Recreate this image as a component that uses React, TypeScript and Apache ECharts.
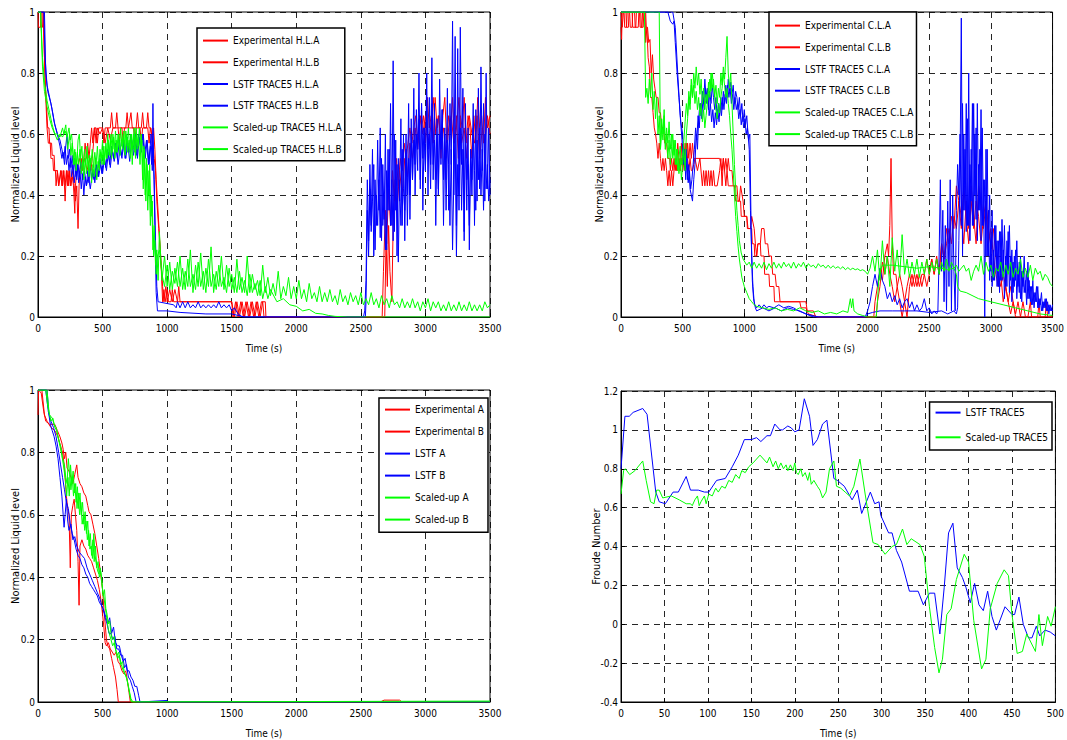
import React, { useEffect, useRef } from "react";
import * as echarts from "echarts";

type P = [number, number][];
// uniform sampling grid (time) with hand-read values
const seg = (t0: number, dt: number, vals: number[]): P => vals.map((v, i) => [t0 + i * dt, v] as [number, number]);

const FONT = "'DejaVu Sans Condensed', 'Liberation Sans', sans-serif";
const RED = "#ff0000";
const BLUE = "#0000ff";
const GREEN = "#00ff00";

// ---------------- Plot 1 : Hot leg ----------------
const expHLA: P = [
  [0, 1], [3, 0.95], [20, 0.95], [25, 1], [40, 1], [55, 0.78], [65, 0.7], [75, 0.62], [85, 0.62], [90, 0.57], [105, 0.57], [110, 0.53], [125, 0.53], [130, 0.48], [150, 0.48], [160, 0.43], [175, 0.48], [185, 0.43], [195, 0.48], [205, 0.43], [210, 0.38], [215, 0.43], [225, 0.48], [235, 0.43], [245, 0.48], [255, 0.43], [265, 0.46], [275, 0.43], [285, 0.34], [290, 0.43], [300, 0.48], [320, 0.52], [340, 0.48], [360, 0.52], [380, 0.48], [400, 0.52], [410, 0.48], [420, 0.52], [430, 0.57], [440, 0.62], [450, 0.57], [460, 0.62], [480, 0.6], [500, 0.62], [520, 0.57], [540, 0.62], [560, 0.58], [580, 0.62], [600, 0.62], [610, 0.67], [620, 0.62], [650, 0.62], [660, 0.57], [670, 0.62], [700, 0.62], [720, 0.67], [730, 0.62], [760, 0.62], [770, 0.67], [780, 0.62], [800, 0.62], [810, 0.67], [820, 0.62], [850, 0.62], [860, 0.57], [870, 0.62], [880, 0.6], [900, 0.52], [910, 0.48], [920, 0.38], [935, 0.29], [950, 0.2], [965, 0.1], [975, 0.05], [990, 0.1], [1000, 0.05], [1020, 0.09], [1040, 0.05], [1060, 0.09], [1080, 0.05], [1150, 0.05], [1300, 0.05], [1500, 0.05], [1520, 0.0], [1540, 0.05], [1560, 0.0], [1580, 0.05], [1600, 0.0], [1620, 0.05], [1640, 0.0], [1660, 0.05], [1680, 0.0], [1700, 0.05], [1720, 0.0], [1740, 0.05], [1750, 0.0], [2650, 0.0], [2665, 0.0], [2675, 0.15], [2690, 0.35], [2700, 0.24], [2715, 0.42], [2730, 0.3], [2745, 0.48], [2760, 0.38], [2775, 0.52], [2790, 0.43], [2805, 0.52], [2820, 0.48], [2835, 0.57], [2850, 0.52], [2865, 0.57], [2880, 0.62], [2895, 0.57], [2910, 0.62], [2925, 0.66], [2940, 0.57], [2955, 0.66], [2970, 0.62], [2985, 0.66], [3000, 0.57], [3015, 0.72], [3030, 0.62], [3045, 0.66], [3060, 0.57], [3075, 0.72], [3090, 0.62], [3105, 0.66], [3120, 0.52], [3135, 0.66], [3150, 0.72], [3165, 0.57], [3180, 0.66], [3195, 0.62], [3210, 0.72], [3225, 0.57], [3240, 0.66], [3255, 0.52], [3270, 0.66], [3285, 0.62], [3300, 0.72], [3315, 0.57], [3330, 0.66], [3345, 0.62], [3360, 0.52], [3375, 0.66], [3390, 0.57], [3405, 0.72], [3420, 0.62], [3435, 0.66], [3450, 0.57], [3465, 0.72], [3480, 0.62], [3500, 0.66],
];

const expHLB: P = [
  [0, 1], [20, 1], [25, 0.95], [35, 0.95], [40, 1], [50, 0.85], [60, 0.72], [70, 0.62], [80, 0.57], [95, 0.57], [100, 0.52], [115, 0.52], [120, 0.48], [135, 0.48], [140, 0.43], [150, 0.48], [160, 0.43], [180, 0.48], [190, 0.43], [200, 0.48], [210, 0.43], [220, 0.48], [230, 0.43], [240, 0.48], [250, 0.43], [270, 0.48], [280, 0.43], [290, 0.38], [300, 0.43], [310, 0.29], [318, 0.43], [325, 0.48], [335, 0.52], [345, 0.48], [355, 0.52], [365, 0.57], [375, 0.52], [385, 0.57], [395, 0.52], [405, 0.57], [415, 0.62], [425, 0.57], [435, 0.62], [450, 0.62], [460, 0.57], [470, 0.62], [500, 0.62], [510, 0.57], [520, 0.62], [560, 0.62], [570, 0.67], [580, 0.62], [620, 0.62], [630, 0.57], [640, 0.62], [680, 0.62], [690, 0.67], [700, 0.62], [740, 0.62], [750, 0.57], [760, 0.62], [790, 0.62], [800, 0.57], [810, 0.62], [840, 0.62], [850, 0.67], [860, 0.62], [875, 0.62], [885, 0.57], [895, 0.62], [905, 0.55], [915, 0.45], [925, 0.38], [940, 0.27], [955, 0.15], [965, 0.05], [975, 0.09], [985, 0.05], [1000, 0.09], [1010, 0.05], [1030, 0.05], [1040, 0.09], [1050, 0.05], [1080, 0.05], [1090, 0.1], [1100, 0.05], [1500, 0.05], [1510, 0.0], [1530, 0.05], [1550, 0.0], [1570, 0.05], [1590, 0.0], [1610, 0.05], [1630, 0.0], [1650, 0.05], [1670, 0.0], [1690, 0.05], [1710, 0.0], [1730, 0.05], [1760, 0.05], [1765, 0.0], [2685, 0.0], [2695, 0.25], [2705, 0.1], [2715, 0.3], [2725, 0.15], [2740, 0.05], [2750, 0.3], [2765, 0.45], [2780, 0.35], [2800, 0.48], [2820, 0.4], [2840, 0.52], [2860, 0.46], [2880, 0.57], [2900, 0.52], [2920, 0.62], [2940, 0.55], [2960, 0.66], [2980, 0.6], [3000, 0.66], [3020, 0.57], [3040, 0.62], [3060, 0.72], [3080, 0.6], [3100, 0.66], [3120, 0.57], [3140, 0.62], [3160, 0.52], [3180, 0.62], [3200, 0.66], [3220, 0.57], [3240, 0.62], [3260, 0.72], [3280, 0.57], [3300, 0.62], [3320, 0.52], [3340, 0.66], [3360, 0.6], [3380, 0.57], [3400, 0.66], [3420, 0.52], [3440, 0.62], [3460, 0.57], [3480, 0.66], [3500, 0.6],
];

const lstfHLAEarly: P = [
  [0, 1], [50, 1], [60, 0.8], [75, 0.74], [100, 0.7], [125, 0.64], [150, 0.6], [170, 0.56], [185, 0.52], [195, 0.54], [205, 0.5], [215, 0.56], [225, 0.6], [235, 0.52], [245, 0.55], [255, 0.49], [265, 0.53], [275, 0.47], [285, 0.52], [295, 0.46], [305, 0.5], [315, 0.44], [325, 0.48], [335, 0.42], [345, 0.47], [355, 0.4], [365, 0.46], [375, 0.43], [385, 0.48], [395, 0.44], [405, 0.5], [415, 0.45], [425, 0.48], [440, 0.44], [455, 0.5], [470, 0.46], [485, 0.5], [500, 0.47], [515, 0.52], [530, 0.48], [545, 0.54], [560, 0.49], [575, 0.55], [590, 0.51], [605, 0.56], [620, 0.5], [635, 0.55], [650, 0.52], [665, 0.58], [680, 0.52], [695, 0.57], [710, 0.51], [725, 0.58], [740, 0.53], [755, 0.6], [770, 0.52], [785, 0.59], [800, 0.54], [815, 0.6], [830, 0.52], [845, 0.58], [860, 0.5], [875, 0.6], [885, 0.48], [890, 0.7], [895, 0.52], [905, 0.3], [915, 0.08], [925, 0.02], [1000, 0.02], [1100, 0.015], [1300, 0.01], [1500, 0.01], [1550, 0.005], [1600, 0.0], [2520, 0.0],
];
const lstfHLALate: P = seg(2530, 10, [
  0.02, 0.12, 0.45, 0.25, 0.5, 0.3, 0.55, 0.2, 0.45, 0.3,
  0.58, 0.35, 0.62, 0.25, 0.5, 0.32, 0.6, 0.22, 0.55, 0.35,
  0.7, 0.3, 0.84, 0.28, 0.58, 0.2, 0.52, 0.38, 0.65, 0.3,
  0.6, 0.25, 0.55, 0.4, 0.7, 0.32, 0.6, 0.45, 0.75, 0.4,
  0.6, 0.48, 0.8, 0.42, 0.7, 0.35, 0.62, 0.48, 0.8, 0.4,
  0.72, 0.5, 0.85, 0.45, 0.7, 0.3, 0.6, 0.42, 0.78, 0.5,
  0.68, 0.3, 0.6, 0.45, 0.75, 0.35, 0.7, 0.5, 0.97, 0.4,
  0.92, 0.3, 0.88, 0.35, 0.95, 0.5, 0.75, 0.25, 0.7, 0.35,
  0.62, 0.22, 0.55, 0.45, 0.7, 0.3, 0.68, 0.38, 0.75, 0.42,
  0.82, 0.48, 0.7, 0.38, 0.8, 0.42, 0.62, 0.4,
]);

const lstfHLBEarly: P = [
  [0, 1], [45, 1], [55, 0.85], [70, 0.76], [90, 0.72], [110, 0.68], [130, 0.63], [150, 0.6], [170, 0.58], [185, 0.55], [200, 0.52], [210, 0.56], [220, 0.5], [230, 0.53], [240, 0.48], [250, 0.52], [260, 0.46], [270, 0.5], [280, 0.44], [290, 0.48], [300, 0.45], [310, 0.5], [320, 0.46], [330, 0.51], [345, 0.45], [360, 0.48], [375, 0.43], [390, 0.46], [405, 0.42], [420, 0.47], [435, 0.45], [450, 0.5], [465, 0.46], [480, 0.52], [495, 0.47], [510, 0.53], [525, 0.49], [540, 0.55], [555, 0.5], [570, 0.56], [585, 0.52], [600, 0.57], [615, 0.52], [630, 0.58], [645, 0.53], [660, 0.57], [675, 0.52], [690, 0.59], [705, 0.54], [720, 0.6], [735, 0.55], [750, 0.58], [765, 0.53], [780, 0.6], [795, 0.55], [810, 0.6], [825, 0.53], [840, 0.58], [855, 0.5], [870, 0.56], [880, 0.5], [890, 0.55], [900, 0.45], [910, 0.25], [920, 0.1], [930, 0.05], [1050, 0.04], [1070, 0.03], [1080, 0.05], [1100, 0.03], [1120, 0.05], [1140, 0.03], [1160, 0.05], [1180, 0.03], [1200, 0.04], [1220, 0.03], [1240, 0.05], [1260, 0.03], [1280, 0.04], [1300, 0.03], [1320, 0.04], [1340, 0.03], [1360, 0.04], [1380, 0.03], [1400, 0.05], [1420, 0.03], [1440, 0.04], [1460, 0.03], [1480, 0.04], [1500, 0.02], [1520, 0.03], [1550, 0.01], [1580, 0.0], [2535, 0.0],
];
const lstfHLBLate: P = seg(2540, 10, [
  0.05, 0.35, 0.2, 0.42, 0.28, 0.38, 0.5, 0.22, 0.4, 0.3,
  0.45, 0.26, 0.52, 0.3, 0.4, 0.22, 0.48, 0.35, 0.55, 0.3,
  0.45, 0.25, 0.6, 0.35, 0.5, 0.18, 0.45, 0.3, 0.55, 0.42,
  0.35, 0.6, 0.3, 0.52, 0.4, 0.65, 0.45, 0.58, 0.5, 0.68,
  0.55, 0.65, 0.45, 0.7, 0.52, 0.62, 0.48, 0.72, 0.55, 0.6,
  0.42, 0.7, 0.5, 0.58, 0.45, 0.65, 0.4, 0.6, 0.55, 0.68,
  0.45, 0.62, 0.35, 0.58, 0.5, 0.3, 0.55, 0.22, 0.45, 0.6,
  0.2, 0.5, 0.4, 0.62, 0.35, 0.55, 0.28, 0.6, 0.45, 0.5,
  0.3, 0.55, 0.4, 0.62, 0.48, 0.35, 0.58, 0.45, 0.62, 0.4,
  0.55, 0.35, 0.6, 0.42, 0.5, 0.38, 0.45,
]);

const suHLAEarly: P = [
  [0, 1], [20, 1], [35, 0.85], [50, 0.77], [70, 0.71], [90, 0.67], [110, 0.63], [130, 0.6], [150, 0.58], [170, 0.6], [190, 0.59], [210, 0.61], [225, 0.59], [240, 0.62], [250, 0.58], [260, 0.6], [270, 0.55], [280, 0.5], [290, 0.54], [300, 0.5], [310, 0.58], [320, 0.6], [330, 0.52], [340, 0.56], [350, 0.48], [360, 0.55], [370, 0.5], [380, 0.56], [390, 0.48], [400, 0.53], [410, 0.5], [420, 0.55], [430, 0.49], [440, 0.54], [450, 0.5], [460, 0.56], [470, 0.49], [480, 0.55], [490, 0.52], [500, 0.58], [510, 0.5], [520, 0.56], [530, 0.52], [540, 0.6], [550, 0.53], [560, 0.58], [570, 0.52], [580, 0.6], [590, 0.55], [600, 0.61], [610, 0.54], [620, 0.6], [630, 0.55], [640, 0.62], [650, 0.56], [660, 0.6], [670, 0.54], [680, 0.61], [690, 0.56], [700, 0.62], [710, 0.55], [720, 0.6], [730, 0.5], [740, 0.6], [750, 0.54], [760, 0.62], [770, 0.55], [780, 0.58], [790, 0.5], [800, 0.6], [810, 0.45], [820, 0.56], [830, 0.4], [840, 0.52], [850, 0.35], [860, 0.48], [870, 0.3], [880, 0.4], [890, 0.22], [900, 0.3], [910, 0.17], [920, 0.22], [930, 0.12],
];
const suHLANoise: P = seg(940, 20, [
  0.28, 0.12, 0.2, 0.1, 0.18, 0.09, 0.16, 0.1, 0.2, 0.09,
  0.15, 0.1, 0.22, 0.08, 0.17, 0.1, 0.21, 0.09, 0.16, 0.1,
  0.23, 0.08, 0.15, 0.1, 0.2, 0.09, 0.17, 0.1, 0.14, 0.08,
  0.19, 0.09, 0.13, 0.08, 0.2, 0.08, 0.14, 0.09, 0.12, 0.07,
  0.17, 0.08, 0.13, 0.07, 0.11, 0.07, 0.15, 0.06, 0.1, 0.07,
  0.13, 0.06, 0.1, 0.06, 0.12, 0.06, 0.09, 0.05, 0.11, 0.06,
  0.08, 0.05, 0.1, 0.05, 0.08, 0.05, 0.09, 0.05, 0.07, 0.04,
  0.09, 0.05, 0.07, 0.04, 0.08, 0.05, 0.07, 0.04, 0.08, 0.04,
  0.06, 0.04, 0.08, 0.04, 0.06, 0.03, 0.07, 0.04, 0.06, 0.03,
  0.07, 0.04, 0.05, 0.03, 0.06, 0.03, 0.05, 0.03, 0.06, 0.03,
  0.05, 0.02, 0.05, 0.03, 0.06, 0.02, 0.05, 0.03, 0.05, 0.02,
  0.04, 0.02, 0.05, 0.02, 0.04, 0.02, 0.05, 0.02, 0.04, 0.02,
  0.05, 0.02, 0.04, 0.02, 0.04, 0.02, 0.05, 0.03, 0.04,
]);

const suHLBEarly: P = [
  [0, 1], [20, 1], [35, 0.82], [50, 0.74], [70, 0.69], [90, 0.65], [110, 0.62], [130, 0.6], [150, 0.6], [170, 0.59], [190, 0.62], [200, 0.6], [215, 0.63], [230, 0.55], [245, 0.6], [255, 0.53], [265, 0.57], [275, 0.5], [285, 0.55], [295, 0.48], [305, 0.54], [315, 0.5], [325, 0.55], [335, 0.47], [345, 0.52], [355, 0.45], [365, 0.52], [375, 0.47], [385, 0.53], [395, 0.46], [405, 0.52], [415, 0.44], [425, 0.5], [435, 0.46], [445, 0.52], [455, 0.45], [465, 0.51], [475, 0.48], [485, 0.54], [495, 0.5], [505, 0.56], [515, 0.5], [525, 0.57], [535, 0.52], [545, 0.58], [555, 0.53], [565, 0.6], [575, 0.54], [585, 0.59], [595, 0.52], [605, 0.58], [615, 0.54], [625, 0.6], [635, 0.53], [645, 0.58], [655, 0.55], [665, 0.61], [675, 0.53], [685, 0.6], [695, 0.54], [705, 0.58], [715, 0.52], [725, 0.6], [735, 0.55], [745, 0.62], [755, 0.52], [765, 0.6], [775, 0.56], [785, 0.62], [795, 0.55], [805, 0.58], [815, 0.42], [825, 0.55], [835, 0.38], [845, 0.5], [855, 0.4], [865, 0.5], [875, 0.33], [885, 0.38], [895, 0.2], [905, 0.25], [915, 0.14], [925, 0.2],
];
const suHLBNoise: P = seg(940, 20, [
  0.22, 0.14, 0.1, 0.17, 0.09, 0.15, 0.11, 0.18, 0.1, 0.16,
  0.09, 0.19, 0.1, 0.14, 0.09, 0.18, 0.1, 0.15, 0.08, 0.19,
  0.1, 0.14, 0.09, 0.17, 0.1, 0.13, 0.08, 0.16, 0.09, 0.13,
  0.08, 0.15, 0.08, 0.12, 0.07, 0.14, 0.08, 0.11, 0.07, 0.12,
  0.06, 0.1, 0.06, 0.09,
]);
const suHLBTail: P = [
  [1850, 0.05], [1900, 0.06], [1950, 0.04], [2000, 0.035], [2050, 0.02], [2100, 0.025], [2150, 0.012], [2200, 0.01], [2250, 0.005], [2300, 0.002], [2400, 0], [3500, 0],
];

// ---------------- Plot 2 : Cold leg ----------------
const expCLA: P = [
  [0, 0.95], [5, 0.91], [10, 1], [25, 1], [30, 0.95], [45, 0.95], [50, 1], [70, 1], [75, 0.95], [90, 0.95], [95, 1], [110, 1], [115, 0.95], [140, 0.95], [145, 1], [160, 1], [165, 0.95], [180, 0.95], [185, 1], [200, 1], [205, 0.95], [215, 0.95], [225, 0.9], [235, 0.91], [245, 0.8], [255, 0.86], [265, 0.78], [275, 0.75], [285, 0.72], [300, 0.72], [310, 0.67], [320, 0.67], [330, 0.62], [345, 0.62], [355, 0.57], [370, 0.57], [380, 0.52], [395, 0.52], [400, 0.48], [410, 0.52], [420, 0.48], [430, 0.52], [440, 0.48], [450, 0.52], [460, 0.48], [470, 0.52], [480, 0.48], [490, 0.52], [500, 0.48], [510, 0.52], [520, 0.57], [530, 0.52], [540, 0.57], [550, 0.52], [560, 0.57], [570, 0.52], [580, 0.57], [590, 0.52], [800, 0.52], [820, 0.48], [830, 0.52], [840, 0.48], [850, 0.52], [860, 0.48], [870, 0.52], [880, 0.48], [900, 0.48], [910, 0.43], [940, 0.43], [950, 0.38], [970, 0.38], [975, 0.33], [1020, 0.33], [1025, 0.29], [1060, 0.29], [1065, 0.24], [1080, 0.24], [1085, 0.2], [1100, 0.2], [1110, 0.24], [1130, 0.24], [1135, 0.2], [1160, 0.2], [1165, 0.14], [1200, 0.14], [1205, 0.1], [1240, 0.1], [1245, 0.05], [1450, 0.05], [1460, 0.03], [1500, 0.03], [1520, 0.01], [1600, 0.0], [2050, 0.0], [2060, 0.05], [2080, 0.1], [2100, 0.15], [2120, 0.12], [2140, 0.2], [2160, 0.24], [2170, 0.2], [2180, 0.3], [2190, 0.52], [2200, 0.25], [2210, 0.14], [2230, 0.14], [2240, 0.1], [2260, 0.14], [2280, 0.1], [2300, 0.05], [2320, 0.1], [2340, 0.14], [2360, 0.1], [2380, 0.14], [2400, 0.1], [2420, 0.14], [2440, 0.1], [2460, 0.14], [2480, 0.1], [2500, 0.14], [2520, 0.19], [2540, 0.14], [2560, 0.19], [2580, 0.14], [2600, 0.24], [2620, 0.19], [2640, 0.29], [2660, 0.24], [2680, 0.33], [2700, 0.29], [2720, 0.43], [2740, 0.38], [2760, 0.33], [2780, 0.24], [2800, 0.38], [2820, 0.29], [2840, 0.43], [2860, 0.33], [2880, 0.24], [2900, 0.43], [2920, 0.38], [2940, 0.29], [2960, 0.38], [2980, 0.24], [3000, 0.29], [3020, 0.2], [3040, 0.14], [3060, 0.1], [3080, 0.14], [3100, 0.05], [3120, 0.1], [3140, 0.05], [3160, 0.01], [3180, 0.05], [3200, 0.01], [3220, 0.05], [3240, 0.0], [3260, 0.05], [3280, 0.0], [3500, 0.0],
];

const expCLB: P = [
  [0, 1], [10, 0.95], [20, 1], [40, 1], [45, 0.95], [60, 0.95], [65, 1], [90, 1], [95, 0.95], [120, 0.95], [125, 1], [150, 1], [155, 0.95], [170, 0.95], [175, 1], [195, 1], [200, 0.9], [210, 0.95], [220, 0.85], [230, 0.82], [240, 0.72], [250, 0.72], [260, 0.67], [270, 0.62], [280, 0.6], [290, 0.57], [300, 0.52], [310, 0.57], [320, 0.52], [330, 0.48], [340, 0.52], [350, 0.48], [360, 0.52], [370, 0.48], [380, 0.43], [390, 0.48], [400, 0.43], [410, 0.48], [420, 0.43], [430, 0.48], [440, 0.52], [450, 0.48], [460, 0.57], [470, 0.52], [480, 0.48], [490, 0.57], [500, 0.48], [510, 0.52], [520, 0.48], [530, 0.57], [540, 0.52], [550, 0.48], [560, 0.52], [570, 0.48], [580, 0.48], [600, 0.52], [620, 0.48], [640, 0.52], [660, 0.43], [670, 0.48], [680, 0.43], [690, 0.48], [700, 0.43], [710, 0.48], [720, 0.43], [730, 0.48], [740, 0.43], [750, 0.48], [760, 0.43], [780, 0.43], [800, 0.48], [810, 0.52], [820, 0.43], [830, 0.52], [840, 0.48], [850, 0.43], [860, 0.48], [870, 0.43], [920, 0.43], [930, 0.38], [960, 0.38], [970, 0.43], [990, 0.38], [1000, 0.33], [1020, 0.33], [1030, 0.29], [1050, 0.29], [1060, 0.33], [1080, 0.29], [1090, 0.24], [1100, 0.2], [1110, 0.24], [1130, 0.24], [1140, 0.29], [1160, 0.29], [1170, 0.24], [1190, 0.24], [1200, 0.2], [1220, 0.2], [1230, 0.14], [1250, 0.14], [1260, 0.1], [1280, 0.1], [1290, 0.05], [1500, 0.05], [1510, 0.02], [1560, 0.02], [1580, 0.0], [2070, 0.0], [2080, 0.05], [2100, 0.1], [2120, 0.18], [2140, 0.14], [2160, 0.2], [2180, 0.14], [2200, 0.1], [2220, 0.05], [2240, 0.1], [2260, 0.05], [2280, 0.0], [2300, 0.05], [2320, 0.0], [2340, 0.1], [2360, 0.14], [2380, 0.1], [2400, 0.14], [2420, 0.1], [2440, 0.14], [2460, 0.14], [2480, 0.19], [2500, 0.14], [2520, 0.19], [2540, 0.14], [2560, 0.2], [2580, 0.14], [2600, 0.24], [2620, 0.19], [2640, 0.24], [2660, 0.29], [2680, 0.24], [2700, 0.33], [2720, 0.29], [2740, 0.38], [2760, 0.29], [2780, 0.43], [2800, 0.33], [2820, 0.24], [2840, 0.38], [2860, 0.29], [2880, 0.38], [2900, 0.33], [2920, 0.24], [2940, 0.33], [2960, 0.38], [2980, 0.29], [3000, 0.24], [3020, 0.29], [3040, 0.2], [3060, 0.14], [3080, 0.1], [3100, 0.14], [3120, 0.1], [3140, 0.05], [3160, 0.1], [3180, 0.05], [3200, 0.0], [3300, 0.0], [3320, 0.05], [3330, 0.0], [3380, 0.0], [3390, 0.05], [3400, 0.0], [3440, 0.0], [3450, 0.05], [3460, 0.0], [3500, 0.0],
];

const lstfCLAEarly: P = [
  [0, 1], [380, 1], [400, 0.97], [420, 0.96], [430, 0.97], [440, 0.9], [455, 0.8], [470, 0.72], [485, 0.64], [500, 0.6], [510, 0.52], [520, 0.48], [530, 0.55], [540, 0.45], [550, 0.5], [560, 0.42], [570, 0.4], [580, 0.38], [590, 0.45], [600, 0.5], [610, 0.6], [620, 0.55], [630, 0.65], [640, 0.7], [650, 0.66], [660, 0.74], [670, 0.7], [680, 0.78], [690, 0.72], [700, 0.75], [710, 0.68], [720, 0.74], [730, 0.7], [740, 0.76], [750, 0.72], [760, 0.68], [770, 0.72], [780, 0.65], [790, 0.7], [800, 0.66], [810, 0.72], [820, 0.68], [830, 0.74], [840, 0.7], [850, 0.76], [860, 0.72], [870, 0.78], [880, 0.74], [890, 0.77], [900, 0.73], [910, 0.76], [920, 0.7], [930, 0.74], [940, 0.72], [950, 0.68], [960, 0.72], [970, 0.66], [980, 0.7], [990, 0.64], [1000, 0.68], [1010, 0.63], [1020, 0.66], [1030, 0.6], [1040, 0.55], [1050, 0.35], [1060, 0.2], [1070, 0.1], [1080, 0.05], [1090, 0.03], [1100, 0.02], [1150, 0.03], [1200, 0.02], [1250, 0.03], [1300, 0.02], [1350, 0.03], [1400, 0.025], [1450, 0.02], [1500, 0.01], [1550, 0.005], [1600, 0.0], [1990, 0.0], [2000, 0.01], [2040, 0.015], [2100, 0.02], [2200, 0.02], [2300, 0.02], [2400, 0.02], [2500, 0.015], [2600, 0.02], [2650, 0.01], [2700, 0.02], [2720, 0.01],
];
const lstfCLALate: P = seg(2730, 10, [
  0.03, 0.25, 0.5, 0.98, 0.2, 0.6, 0.35, 0.7, 0.3, 0.8,
  0.25, 0.55, 0.3, 0.7, 0.4, 0.62, 0.25, 0.5, 0.35, 0.68,
  0.3, 0.45, 0.0, 0.55, 0.2, 0.35, 0.12, 0.25, 0.1, 0.22,
  0.12, 0.3, 0.1, 0.25, 0.08, 0.28, 0.12, 0.22, 0.06, 0.2,
  0.1, 0.28, 0.08, 0.2, 0.05, 0.18, 0.1, 0.22, 0.06, 0.15,
  0.08, 0.2, 0.05, 0.15, 0.08, 0.12, 0.04, 0.18, 0.06, 0.1,
  0.04, 0.12, 0.03, 0.08, 0.05, 0.1, 0.03, 0.06, 0.02, 0.05,
  0.03, 0.06, 0.02, 0.05, 0.01, 0.04, 0.02, 0.04,
]);

const lstfCLBEarly: P = [
  [0, 1], [420, 1], [440, 0.95], [460, 0.8], [480, 0.66], [495, 0.58], [505, 0.5], [515, 0.55], [525, 0.45], [535, 0.52], [545, 0.44], [555, 0.48], [565, 0.42], [575, 0.45], [585, 0.5], [595, 0.55], [605, 0.62], [615, 0.58], [625, 0.66], [635, 0.62], [645, 0.7], [655, 0.65], [665, 0.72], [675, 0.68], [685, 0.75], [695, 0.7], [705, 0.73], [715, 0.66], [725, 0.7], [735, 0.64], [745, 0.68], [755, 0.62], [765, 0.67], [775, 0.63], [785, 0.68], [795, 0.64], [805, 0.7], [815, 0.66], [825, 0.72], [835, 0.68], [845, 0.73], [855, 0.7], [865, 0.76], [875, 0.72], [885, 0.75], [895, 0.7], [905, 0.73], [915, 0.68], [925, 0.72], [935, 0.68], [945, 0.7], [955, 0.65], [965, 0.68], [975, 0.63], [985, 0.66], [995, 0.62], [1005, 0.65], [1015, 0.6], [1025, 0.62], [1035, 0.58], [1045, 0.6], [1055, 0.3], [1065, 0.12], [1075, 0.06], [1085, 0.04], [1100, 0.03], [1120, 0.04], [1140, 0.03], [1160, 0.04], [1180, 0.03], [1200, 0.035], [1240, 0.03], [1280, 0.04], [1320, 0.03], [1360, 0.035], [1400, 0.03], [1440, 0.02], [1500, 0.01], [1560, 0.0], [1980, 0.0], [2000, 0.02], [2020, 0.05], [2040, 0.1], [2060, 0.14], [2080, 0.1], [2100, 0.16], [2120, 0.12], [2140, 0.1], [2160, 0.06], [2180, 0.08], [2200, 0.05], [2220, 0.07], [2240, 0.04], [2260, 0.06], [2280, 0.03], [2300, 0.05], [2320, 0.06], [2340, 0.03], [2360, 0.05], [2380, 0.02], [2400, 0.04], [2420, 0.02], [2440, 0.03], [2460, 0.06], [2480, 0.02], [2500, 0.03], [2520, 0.01], [2540, 0.02], [2560, 0.01],
];
const lstfCLBLate: P = seg(2570, 10, [
  0.02, 0.2, 0.45, 0.15, 0.35, 0.05, 0.3, 0.02, 0.38, 0.1,
  0.45, 0.02, 0.4, 0.15, 0.02, 0.35, 0.5, 0.4, 0.6, 0.3,
  0.7, 0.35, 0.55, 0.28, 0.65, 0.3, 0.5, 0.38, 0.7, 0.3,
  0.6, 0.32, 0.7, 0.35, 0.55, 0.25, 0.62, 0.3, 0.45, 0.2,
  0.55, 0.2, 0.4, 0.15, 0.35, 0.12, 0.3, 0.2, 0.25, 0.1,
  0.28, 0.12, 0.32, 0.15, 0.3, 0.1, 0.25, 0.15, 0.3, 0.12,
  0.22, 0.08, 0.2, 0.12, 0.25, 0.1, 0.18, 0.06, 0.15, 0.1,
  0.2, 0.08, 0.15, 0.06, 0.12, 0.05, 0.1, 0.04, 0.08, 0.05,
  0.1, 0.03, 0.06, 0.04, 0.08, 0.02, 0.05, 0.03, 0.06, 0.02,
  0.04, 0.02, 0.03, 0.02,
]);

const suCLAEarly: P = [
  [0, 1], [190, 1], [200, 0.72], [210, 0.75], [220, 0.7], [230, 0.78], [240, 0.72], [250, 0.8], [260, 0.68], [270, 0.74], [280, 0.65], [290, 0.72], [300, 0.6], [310, 0.66], [320, 0.55], [330, 0.62], [340, 0.58], [350, 0.66], [360, 0.55], [370, 0.6], [380, 0.52], [390, 0.58], [400, 0.5], [410, 0.56], [420, 0.6], [430, 0.53], [440, 0.58], [450, 0.5], [460, 0.55], [470, 0.47], [480, 0.52], [490, 0.45], [500, 0.5], [510, 0.55], [520, 0.48], [530, 0.6], [540, 0.65], [550, 0.72], [560, 0.68], [570, 0.76], [580, 0.72], [590, 0.8], [600, 0.75], [610, 0.82], [620, 0.76], [630, 0.8], [640, 0.73], [650, 0.78], [660, 0.7], [670, 0.75], [680, 0.68], [690, 0.73], [700, 0.7], [710, 0.77], [720, 0.72], [730, 0.8], [740, 0.75], [750, 0.78], [760, 0.72], [770, 0.76], [780, 0.7], [790, 0.75], [800, 0.72], [810, 0.8], [820, 0.76], [830, 0.82], [840, 0.78], [850, 0.85], [860, 0.92], [870, 0.8], [880, 0.75], [890, 0.8], [900, 0.7], [910, 0.6], [920, 0.5], [930, 0.42], [940, 0.35], [950, 0.3], [960, 0.25], [975, 0.21], [990, 0.19], [1005, 0.18], [1020, 0.17], [1040, 0.18], [1060, 0.16],
];
const suCLANoise: P = seg(1080, 20, [
  0.18, 0.16, 0.175, 0.16, 0.18, 0.155, 0.175, 0.16, 0.18, 0.16,
  0.175, 0.16, 0.18, 0.165, 0.175, 0.16, 0.18, 0.16, 0.175, 0.165,
  0.18, 0.16, 0.175, 0.165, 0.17, 0.16, 0.175, 0.165, 0.17, 0.16,
  0.17, 0.16, 0.168, 0.16, 0.165, 0.158, 0.165, 0.155, 0.162, 0.155,
  0.16, 0.155, 0.158, 0.152, 0.155, 0.15, 0.14, 0.16, 0.2, 0.15,
  0.22, 0.12, 0.25, 0.14, 0.2, 0.1, 0.26, 0.15, 0.22, 0.13,
  0.27, 0.14, 0.19, 0.13, 0.18, 0.14, 0.19, 0.13, 0.18, 0.14,
  0.19, 0.14, 0.18, 0.15, 0.19, 0.14, 0.18, 0.15, 0.19, 0.15,
  0.18, 0.16, 0.17, 0.15, 0.16, 0.17, 0.15, 0.16, 0.12, 0.15,
  0.17, 0.15, 0.2, 0.14, 0.18, 0.15, 0.17, 0.13, 0.16, 0.15,
  0.18, 0.13, 0.17, 0.14, 0.18, 0.13, 0.16, 0.14, 0.19, 0.13,
  0.16, 0.13, 0.17, 0.12, 0.16, 0.14, 0.15, 0.12, 0.14, 0.13,
  0.11, 0.1,
]);

const suCLB: P = [
  [0, 1], [310, 1], [320, 0.55], [330, 0.65], [340, 0.6], [350, 0.68], [360, 0.55], [370, 0.62], [380, 0.57], [390, 0.64], [400, 0.55], [410, 0.6], [420, 0.52], [430, 0.58], [440, 0.5], [450, 0.55], [460, 0.48], [470, 0.52], [480, 0.56], [490, 0.5], [500, 0.53], [510, 0.58], [520, 0.64], [530, 0.7], [540, 0.66], [550, 0.74], [560, 0.7], [570, 0.78], [580, 0.72], [590, 0.76], [600, 0.7], [610, 0.74], [620, 0.68], [630, 0.72], [640, 0.66], [650, 0.7], [660, 0.64], [670, 0.68], [680, 0.62], [690, 0.66], [700, 0.7], [710, 0.74], [720, 0.78], [730, 0.74], [740, 0.8], [750, 0.76], [760, 0.72], [770, 0.68], [780, 0.65], [790, 0.7], [800, 0.67], [810, 0.72], [820, 0.75], [830, 0.8], [840, 0.76], [850, 0.72], [860, 0.75], [870, 0.7], [880, 0.66], [890, 0.6], [900, 0.55], [910, 0.48], [920, 0.4], [930, 0.33], [940, 0.28], [950, 0.23], [960, 0.19], [970, 0.16], [980, 0.13], [1000, 0.1], [1020, 0.08], [1040, 0.06], [1060, 0.05], [1080, 0.04], [1100, 0.035], [1150, 0.03], [1200, 0.025], [1250, 0.03], [1300, 0.02], [1350, 0.025], [1400, 0.02], [1450, 0.03], [1500, 0.02], [1550, 0.015], [1600, 0.02], [1650, 0.01], [1700, 0.015], [1750, 0.01], [1800, 0.02], [1840, 0.015], [1860, 0.06], [1870, 0.03], [1880, 0.06], [1890, 0.02], [1920, 0.01], [1960, 0.005], [2000, 0.0], [2070, 0.0], [2080, 0.05], [2090, 0.12], [2100, 0.15], [2120, 0.17], [2200, 0.17], [2300, 0.165], [2400, 0.16], [2500, 0.165], [2600, 0.16], [2650, 0.155], [2700, 0.16], [2720, 0.14], [2730, 0.1], [2750, 0.085], [2800, 0.08], [2900, 0.06], [3000, 0.05], [3100, 0.04], [3200, 0.03], [3300, 0.02], [3400, 0.01], [3500, 0.005],
];

// ---------------- Plot 3 : Levels A/B ----------------
const expA: P = [
  [0, 0.92], [5, 1], [25, 0.99], [45, 0.93], [60, 0.9], [90, 0.89], [130, 0.89], [150, 0.87], [170, 0.85], [185, 0.83], [195, 0.81], [205, 0.78], [215, 0.8], [225, 0.75], [240, 0.74], [255, 0.72], [270, 0.7], [285, 0.73], [300, 0.76], [310, 0.72], [325, 0.7], [340, 0.69], [355, 0.67], [370, 0.66], [385, 0.63], [395, 0.61], [410, 0.6], [425, 0.57], [440, 0.54], [455, 0.5], [470, 0.46], [485, 0.41], [500, 0.36], [510, 0.3], [520, 0.25], [530, 0.2], [540, 0.18], [555, 0.17], [570, 0.14], [585, 0.11], [600, 0.08], [612, 0.04], [622, 0.0], [2650, 0.0], [2680, 0.006], [2800, 0.006], [2820, 0.0], [3500, 0.0],
];
const expB: P = [
  [0, 1], [30, 1], [50, 0.92], [70, 0.9], [100, 0.88], [130, 0.87], [155, 0.85], [175, 0.82], [190, 0.8], [200, 0.77], [210, 0.72], [220, 0.66], [230, 0.62], [240, 0.6], [250, 0.43], [258, 0.6], [270, 0.63], [280, 0.65], [290, 0.6], [300, 0.55], [310, 0.45], [318, 0.31], [325, 0.5], [340, 0.52], [355, 0.5], [370, 0.49], [385, 0.47], [400, 0.46], [415, 0.45], [430, 0.43], [445, 0.41], [460, 0.39], [475, 0.36], [490, 0.32], [500, 0.28], [510, 0.24], [520, 0.19], [530, 0.18], [545, 0.19], [560, 0.17], [575, 0.16], [590, 0.15], [605, 0.16], [620, 0.13], [635, 0.12], [650, 0.1], [665, 0.09], [680, 0.1], [695, 0.06], [705, 0.03], [715, 0.0], [3500, 0.0],
];
const lstfA: P = [
  [0, 1], [70, 1], [85, 0.92], [95, 0.89], [110, 0.87], [125, 0.85], [140, 0.82], [155, 0.78], [170, 0.72], [185, 0.66], [195, 0.6], [202, 0.56], [210, 0.6], [220, 0.65], [230, 0.58], [240, 0.55], [255, 0.57], [270, 0.52], [285, 0.53], [300, 0.5], [320, 0.48], [340, 0.47], [360, 0.46], [380, 0.43], [400, 0.41], [420, 0.39], [440, 0.37], [460, 0.35], [480, 0.33], [500, 0.3], [520, 0.28], [540, 0.25], [555, 0.27], [570, 0.22], [585, 0.24], [600, 0.19], [615, 0.18], [630, 0.18], [645, 0.15], [660, 0.13], [675, 0.14], [690, 0.1], [705, 0.1], [720, 0.08], [735, 0.07], [750, 0.05], [765, 0.05], [780, 0.02], [790, 0.0], [1000, 0.005], [1010, 0.0], [3500, 0.0],
];
const lstfB: P = [
  [0, 1], [60, 1], [80, 0.93], [100, 0.9], [120, 0.88], [140, 0.85], [160, 0.8], [175, 0.76], [190, 0.72], [205, 0.68], [220, 0.64], [235, 0.62], [250, 0.57], [265, 0.54], [280, 0.52], [295, 0.49], [310, 0.47], [325, 0.46], [340, 0.44], [355, 0.43], [370, 0.41], [385, 0.4], [400, 0.38], [415, 0.37], [430, 0.36], [445, 0.35], [460, 0.34], [475, 0.32], [490, 0.31], [505, 0.3], [520, 0.27], [535, 0.25], [550, 0.22], [565, 0.22], [580, 0.2], [595, 0.21], [610, 0.17], [625, 0.17], [640, 0.15], [655, 0.15], [670, 0.11], [685, 0.12], [700, 0.08], [715, 0.07], [730, 0.05], [745, 0.03], [760, 0.0], [3500, 0.0],
];
const suA: P = [
  [0, 1], [70, 1], [85, 0.93], [100, 0.9], [115, 0.91], [130, 0.88], [145, 0.87], [160, 0.84], [175, 0.82], [190, 0.78], [205, 0.76], [215, 0.72], [225, 0.7], [235, 0.78], [245, 0.73], [255, 0.68], [265, 0.72], [275, 0.66], [285, 0.7], [295, 0.64], [305, 0.69], [315, 0.62], [325, 0.67], [335, 0.6], [345, 0.64], [355, 0.57], [365, 0.61], [375, 0.54], [385, 0.58], [395, 0.5], [405, 0.54], [415, 0.47], [425, 0.52], [435, 0.45], [445, 0.5], [455, 0.43], [465, 0.45], [475, 0.4], [485, 0.42], [495, 0.38], [505, 0.34], [515, 0.36], [525, 0.3], [535, 0.28], [545, 0.25], [555, 0.26], [565, 0.22], [575, 0.2], [590, 0.21], [600, 0.17], [615, 0.15], [625, 0.16], [640, 0.12], [655, 0.13], [670, 0.09], [685, 0.08], [700, 0.05], [712, 0.02], [722, 0.0], [3500, 0.003],
];
const suB: P = [
  [0, 1], [60, 1], [75, 0.95], [90, 0.92], [110, 0.91], [125, 0.89], [140, 0.88], [155, 0.85], [170, 0.82], [185, 0.79], [200, 0.75], [212, 0.71], [222, 0.66], [232, 0.72], [242, 0.66], [252, 0.76], [262, 0.7], [272, 0.74], [282, 0.67], [292, 0.7], [302, 0.62], [312, 0.67], [322, 0.6], [332, 0.64], [342, 0.57], [352, 0.6], [362, 0.55], [372, 0.58], [382, 0.52], [392, 0.55], [402, 0.49], [412, 0.5], [422, 0.46], [432, 0.54], [442, 0.47], [452, 0.44], [462, 0.42], [472, 0.41], [482, 0.43], [492, 0.4], [502, 0.35], [512, 0.33], [522, 0.3], [532, 0.27], [542, 0.24], [552, 0.22], [565, 0.2], [578, 0.18], [590, 0.19], [605, 0.16], [618, 0.14], [630, 0.15], [645, 0.12], [660, 0.1], [675, 0.09], [690, 0.07], [705, 0.04], [720, 0.01], [735, 0.0], [3500, 0.0],
];

// ---------------- Plot 4 : Froude number ----------------
const froudeLstf: P = [
  [0, 0.8], [4.5, 1.07], [9.5, 1.07], [14, 1.09], [25, 1.11], [30, 1.08], [40, 0.68], [44, 0.63], [51, 0.62], [60, 0.68], [66, 0.68], [75, 0.76], [80, 0.69], [89, 0.69], [96, 0.68], [101, 0.68], [110, 0.74], [120, 0.75], [128, 0.81], [135, 0.87], [142, 0.95], [150, 0.95], [156, 0.96], [161, 0.94], [168, 0.97], [172, 0.97], [177, 1.03], [183, 1.0], [186, 1.0], [192, 1.02], [196, 1.01], [200, 0.99], [205, 1.0], [211, 1.16], [217, 1.07], [221, 0.92], [226, 0.95], [232, 1.03], [237, 1.05], [245, 0.75], [249, 0.74], [257, 0.71], [266, 0.64], [272, 0.69], [277, 0.57], [287, 0.68], [292, 0.62], [297, 0.63], [299, 0.56], [308, 0.47], [312, 0.47], [317, 0.38], [323, 0.32], [332, 0.17], [336, 0.17], [342, 0.17], [348, 0.1], [355, 0.16], [361, 0.16], [367, -0.05], [372, 0.19], [377, 0.47], [382, 0.52], [387, 0.29], [393, 0.24], [397, 0.19], [402, 0.11], [407, 0.21], [412, 0.1], [417, 0.07], [422, 0.17], [427, 0.04], [432, -0.03], [442, 0.09], [450, 0.05], [453, 0.05], [458, 0.14], [463, 0.0], [469, -0.07], [473, -0.07], [478, -0.01], [482, -0.06], [488, -0.03], [494, -0.04], [500, -0.06],
];
const froudeScaled: P = [
  [0, 0.67], [3, 0.79], [5, 0.8], [10, 0.77], [16, 0.79], [25, 0.84], [29, 0.74], [34, 0.63], [38, 0.62], [41, 0.69], [44, 0.69], [48, 0.65], [58, 0.66], [67, 0.64], [75, 0.62], [80, 0.62], [82, 0.61], [85, 0.64], [88, 0.66], [90, 0.61], [92, 0.63], [96, 0.66], [98, 0.62], [101, 0.67], [105, 0.66], [109, 0.7], [112, 0.68], [116, 0.71], [120, 0.7], [124, 0.74], [128, 0.73], [132, 0.77], [136, 0.75], [139, 0.79], [143, 0.78], [147, 0.81], [152, 0.83], [156, 0.85], [160, 0.87], [164, 0.85], [168, 0.83], [171, 0.86], [175, 0.81], [178, 0.84], [181, 0.8], [184, 0.83], [187, 0.8], [190, 0.82], [192, 0.79], [195, 0.82], [198, 0.79], [200, 0.83], [202, 0.78], [204, 0.77], [207, 0.8], [209, 0.76], [212, 0.78], [215, 0.74], [217, 0.78], [219, 0.72], [222, 0.74], [226, 0.71], [229, 0.69], [232, 0.65], [236, 0.68], [240, 0.8], [245, 0.84], [248, 0.71], [253, 0.7], [258, 0.68], [263, 0.66], [268, 0.71], [275, 0.85], [281, 0.67], [290, 0.42], [296, 0.41], [304, 0.36], [312, 0.4], [317, 0.41], [324, 0.49], [329, 0.41], [334, 0.44], [344, 0.41], [349, 0.35], [355, 0.09], [361, -0.12], [366, -0.25], [370, -0.18], [375, 0.05], [380, 0.08], [386, 0.23], [395, 0.36], [400, 0.32], [406, 0.02], [415, -0.23], [420, -0.18], [425, 0.08], [433, 0.21], [441, 0.28], [446, 0.25], [450, 0.05], [456, -0.15], [462, -0.14], [467, -0.05], [477, -0.14], [481, 0.05], [485, -0.11], [491, 0.04], [495, -0.01], [500, 0.09],
];

// ---------------- option building ----------------
const grids = [
  { left: 38, top: 12, width: 452, height: 305 },
  { left: 621, top: 12, width: 440, height: 305 },
  { left: 38, top: 390, width: 452, height: 312 },
  { left: 621, top: 391, width: 440, height: 311 },
];

const textBase = { fontFamily: FONT, color: "#000" };
const TICK = 10;

function xAxis(gridIndex: number, max: number, interval: number) {
  return {
    type: "value", gridIndex, min: 0, max, interval,
    name: "Time (s)", nameLocation: "middle", nameGap: 26, nameMoveOverlap: false,
    nameTextStyle: { ...textBase, fontSize: TICK },
    axisLine: { show: true, onZero: false, lineStyle: { color: "#000", width: 1 } },
    axisTick: { show: true, inside: true, length: 4, lineStyle: { color: "#000" } },
    axisLabel: { ...textBase, fontSize: TICK, margin: 6, formatter: (v: number) => String(v) },
    splitLine: { show: true, lineStyle: { color: "#000", width: 1, type: [6, 5], opacity: 0.85 } },
  };
}
function yAxis(gridIndex: number, min: number, max: number, name: string, nameGap: number) {
  return {
    type: "value", gridIndex, min, max, interval: 0.2,
    name, nameLocation: "middle", nameGap, nameMoveOverlap: false,
    nameTextStyle: { ...textBase, fontSize: 11 },
    axisLine: { show: true, onZero: false, lineStyle: { color: "#000", width: 1 } },
    axisTick: { show: true, inside: true, length: 4, lineStyle: { color: "#000" } },
    axisLabel: { ...textBase, fontSize: TICK, margin: 3 },
    splitLine: { show: true, lineStyle: { color: "#000", width: 1, type: [6, 5], opacity: 0.85 } },
  };
}

function line(name: string, idx: number, data: P, color: string) {
  return {
    type: "line", name, xAxisIndex: idx, yAxisIndex: idx, data,
    symbol: "none", showSymbol: false, color,
    lineStyle: { color, width: 1 }, itemStyle: { color },
    emphasis: { disabled: true }, silent: true,
  };
}

const series = [
  line("Experimental H.L.A", 0, expHLA, RED),
  line("Experimental H.L.B", 0, expHLB, RED),
  line("LSTF TRACE5 H.L.A", 0, [...lstfHLAEarly, ...lstfHLALate], BLUE),
  line("LSTF TRACE5 H.L.B", 0, [...lstfHLBEarly, ...lstfHLBLate], BLUE),
  line("Scaled-up TRACE5 H.L.A", 0, [...suHLAEarly, ...suHLANoise], GREEN),
  line("Scaled-up TRACE5 H.L.B", 0, [...suHLBEarly, ...suHLBNoise, ...suHLBTail], GREEN),

  line("Experimental C.L.A", 1, expCLA, RED),
  line("Experimental C.L.B", 1, expCLB, RED),
  line("LSTF TRACE5 C.L.A", 1, [...lstfCLAEarly, ...lstfCLALate], BLUE),
  line("LSTF TRACE5 C.L.B", 1, [...lstfCLBEarly, ...lstfCLBLate], BLUE),
  line("Scaled-up TRACE5 C.L.A", 1, [...suCLAEarly, ...suCLANoise], GREEN),
  line("Scaled-up TRACE5 C.L.B", 1, suCLB, GREEN),

  line("Experimental A", 2, expA, RED),
  line("Experimental B", 2, expB, RED),
  line("LSTF A", 2, lstfA, BLUE),
  line("LSTF B", 2, lstfB, BLUE),
  line("Scaled-up A", 2, suA, GREEN),
  line("Scaled-up B", 2, suB, GREEN),

  line("LSTF TRACE5", 3, froudeLstf, BLUE),
  line("Scaled-up TRACE5", 3, froudeScaled, GREEN),
];

function legend(names: string[], pos: Record<string, number>, gap: number, pad: number[]) {
  return {
    orient: "vertical", ...pos, data: names, selectedMode: false,
    backgroundColor: "#fff", borderColor: "#000", borderWidth: 1.5,
    padding: pad, itemGap: gap, itemWidth: 25, itemHeight: 14,
    itemStyle: { opacity: 0 },
    textStyle: { ...textBase, fontSize: 10 },
  };
}

const option = {
  animation: false,
  backgroundColor: "#fff",
  grid: grids.map((g) => ({ ...g, show: true, borderColor: "#000", borderWidth: 1, backgroundColor: "#fff", containLabel: false })),
  xAxis: [
    xAxis(0, 3500, 500),
    xAxis(1, 3500, 500),
    xAxis(2, 3500, 500),
    xAxis(3, 500, 50),
  ],
  yAxis: [
    yAxis(0, 0, 1, "Normalized Liquid level", 17),
    yAxis(1, 0, 1, "Normalized Liquid level", 16),
    yAxis(2, 0, 1, "Normalized Liquid level", 17),
    yAxis(3, -0.4, 1.2, "Froude Number", 19),
  ],
  legend: [
    legend(series.slice(0, 6).map((s) => s.name), { left: 197, top: 28 }, 10.5, [7, 3, 6, 5]),
    legend(series.slice(6, 12).map((s) => s.name), { left: 769, top: 12 }, 10.5, [8, 3, 6, 5]),
    legend(series.slice(12, 18).map((s) => s.name), { right: 579, top: 398 }, 10.8, [6, 4, 7, 5]),
    legend(series.slice(18, 20).map((s) => s.name), { right: 15, top: 402 }, 13.5, [5, 4, 7, 5]),
  ],
  series,
};

export default function App() {
  const ref = useRef<HTMLDivElement>(null);
  useEffect(() => {
    if (!ref.current) return;
    const chart = echarts.init(ref.current, undefined, { renderer: "svg" });
    chart.setOption(option as any);
    return () => chart.dispose();
  }, []);
  return (
    <div
      ref={ref}
      style={{ position: "absolute", left: 0, top: 0, width: 1067, height: 740, background: "#fff" }}
    />
  );
}
